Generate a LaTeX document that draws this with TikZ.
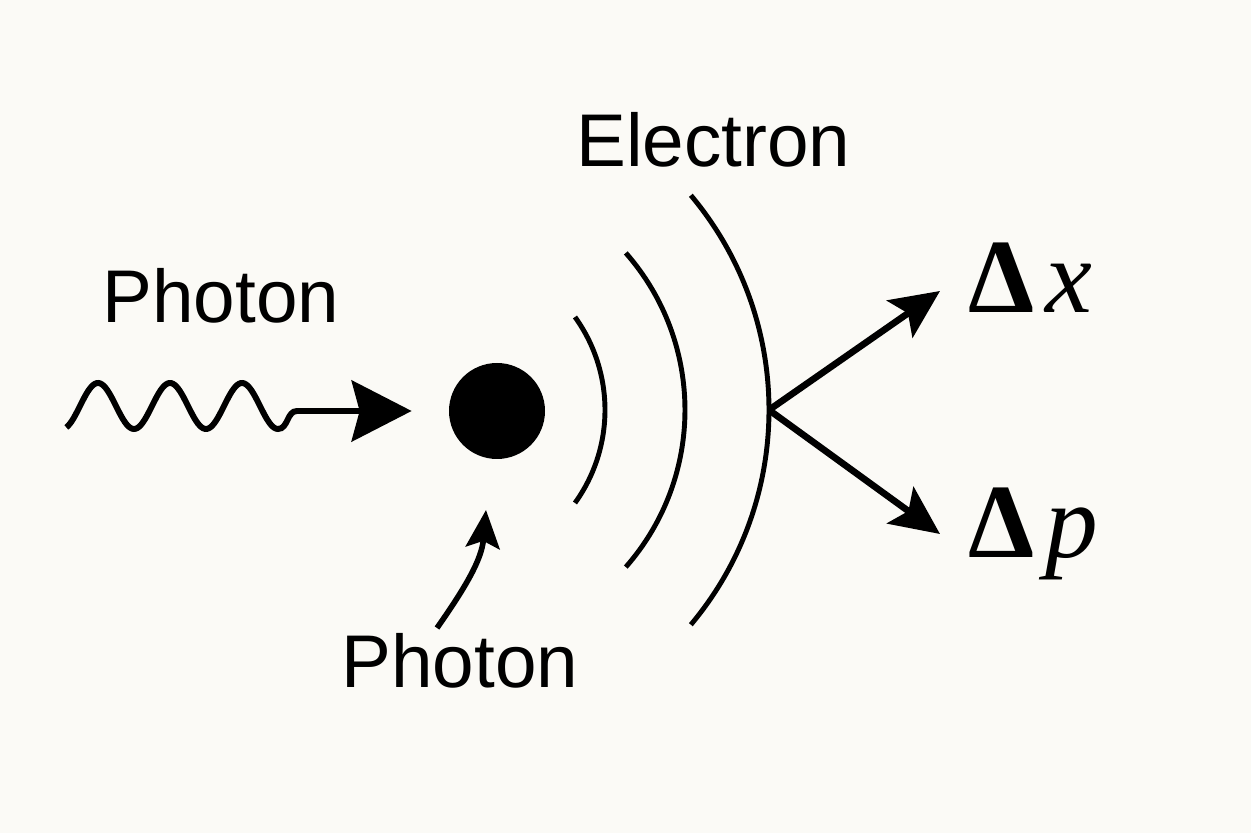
\documentclass[tikz,border=0pt]{standalone}
\usepackage{xcolor}
\usepackage{fontspec}
\setmainfont{Liberation Sans}
\newfontfamily\symfont{Liberation Serif}
\usetikzlibrary{arrows.meta}
\definecolor{paper}{HTML}{FBFAF6}

\begin{document}
\begin{tikzpicture}[
        txt/.style={font=\fontsize{42.5}{50}\selectfont,inner sep=0pt,anchor=base},
        sym/.style={font=\symfont\fontsize{60}{70}\selectfont,inner sep=0pt,anchor=base west},
        ring/.style={line width=2.8pt},
        ray/.style={line width=3.8pt,-{Stealth[length=0.98cm,width=0.9cm,inset=0.2cm]}},
        wave/.style={line width=3.4pt,-{Stealth[length=1.2cm,width=1.22cm,inset=0.16cm]}},
        kickline/.style={line width=3.2pt,-{Stealth[length=0.76cm,width=0.68cm,inset=0.14cm]}}]
      \fill[paper] (0,0) rectangle (25.02,16.66);
      \useasboundingbox (0,0) rectangle (25.02,16.66);
      % labels
      \node[txt] (phA)  at(4.42,10.2){Photon};
      \node[txt] (elec) at(14.27,13.32){Electron};
      \node[txt] (phB)  at(9.2,2.9){Photon};
      \node[sym] (dx)   at(19.36,10.4){\textbf{Δ}\hspace{0.1em}\textit{x}};
      \node[sym] (dp)   at(19.36,5.5){\textbf{Δ}\hspace{0.1em}\textit{p}};
      % electron and rings
      \node[circle,fill=black,minimum size=1.92cm,inner sep=0pt] (dot) at(9.94,8.44){};
      \draw[ring] (8.92,8.46) ++(-35.8:3.18) arc[start angle=-35.8,end angle=35.8,radius=3.18];
      \draw[ring] (8.94,8.46) ++(-41.3:4.76) arc[start angle=-41.3,end angle=41.3,radius=4.76];
      \draw[ring] (8.70,8.46) ++(-40:6.68) arc[start angle=-40,end angle=40,radius=6.68];
      % incoming photon
      \draw[wave,shorten >=0.74cm] plot[domain=0.06:3,samples=120,smooth]
            ({1.24+1.44*\x},{8.54-0.46*cos(360*\x)}) to[out=0,in=180] (5.94,8.44) -- (dot);
      \coordinate (kick) at(8.74,4.1);
      \coordinate (aim)  at(9.72,6.46);
      \draw[kickline] (kick) to[out=55,in=-95] (aim);
      % uncertainty arrows
      \coordinate (hit)  at(15.38,8.46);
      \coordinate (dxtip) at(18.8,10.84);
      \coordinate (dptip) at(18.8,5.98);
      \draw[ray] (hit) -- (dxtip);
      \draw[ray] (hit) -- (dptip);
    \end{tikzpicture}
\end{document}
